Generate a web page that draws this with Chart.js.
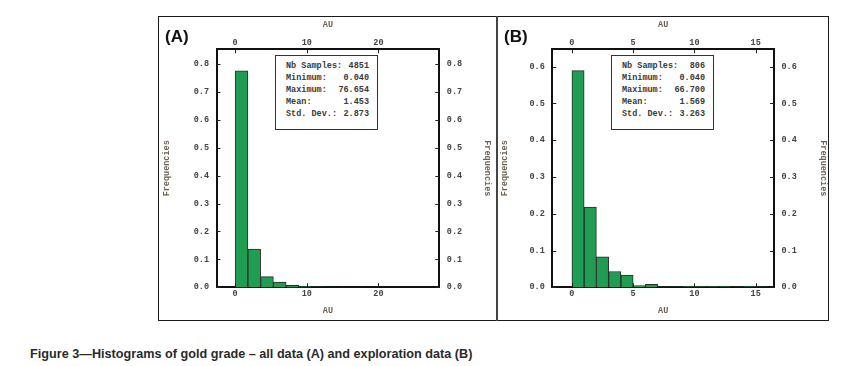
<!DOCTYPE html>
<html>
<head>
<meta charset="utf-8">
<script src="https://cdn.jsdelivr.net/npm/chart.js@4.4.0/dist/chart.umd.min.js"></script>
<style>
  body { margin: 0; background: #fff; width: 846px; height: 366px; position: relative; overflow: hidden; }
  .frame { position: absolute; left: 158px; top: 16px; width: 669px; height: 303px; border: 1.5px solid #1a1a1a; }
  .divider { position: absolute; left: 496px; top: 16px; width: 1.5px; height: 305px; background: #444; }
  canvas { position: absolute; }
  .tag { position: absolute; font: bold 17px "Liberation Sans", Arial, sans-serif; color: #111; }
  .stats { position: absolute; top: 55px; width: 101px; height: 69px; border: 1.5px solid #333; background: #fff;
           font: bold 8.5px "Liberation Mono", monospace; color: #3a3a3a; padding-top: 4px; box-sizing: content-box; }
  .stats div { display: flex; justify-content: space-between; line-height: 12px; padding: 0 8px 0 10px; }
  .caption { position: absolute; left: 30px; top: 347px; font: bold 12px "Liberation Sans", Arial, sans-serif;
             color: #2a2a2a; white-space: nowrap; transform-origin: 0 0; }
</style>
</head>
<body>
<div class="frame"></div>
<div class="divider"></div>
<canvas id="chartA" width="339" height="305" style="left:158px;top:16px"></canvas>
<canvas id="chartB" width="332" height="305" style="left:497px;top:16px"></canvas>
<div class="tag" style="left:165px;top:27px">(A)</div>
<div class="tag" style="left:504px;top:27px">(B)</div>
<div class="stats" id="statsA" style="left:275px"></div>
<div class="stats" id="statsB" style="left:611px"></div>
<div class="caption" id="caption">Figure 3—Histograms of gold grade – all data (A) and exploration data (B)</div>
<script>
// Histogramme A : toutes les données
const binCentersA = [0.89, 2.67, 4.45, 6.23, 8.01, 9.79, 11.57, 13.35, 15.13, 16.91];
const freqA = [0.776, 0.137, 0.038, 0.019, 0.007, 0.003, 0.002, 0.001, 0.001, 0.001];
const xTicksA = [0, 10, 20];
const yTicksA = [0, 0.1, 0.2, 0.3, 0.4, 0.5, 0.6, 0.7, 0.8];
const statsLabels = ['Nb Samples:', 'Minimum:', 'Maximum:', 'Mean:', 'Std. Dev.:'];
const statsA = ['4851', '0.040', '76.654', '1.453', '2.873'];

// Histogramme B : données d'exploration
const binCentersB = [0.5, 1.5, 2.5, 3.5, 4.5, 5.5, 6.5, 7.5, 8.5, 9.5, 10.5, 11.5, 12.5, 13.5, 14.5, 15.5];
const freqB = [0.589, 0.218, 0.083, 0.043, 0.033, 0.005, 0.008, 0.001, 0.001, 0.002, 0.002, 0.002, 0.002, 0.001, 0.002, 0.001];
const xTicksB = [0, 5, 10, 15];
const yTicksB = [0, 0.1, 0.2, 0.3, 0.4, 0.5, 0.6];
const statsB = ['806', '0.040', '66.700', '1.569', '3.263'];

const tickFont = { family: '"Liberation Mono", monospace', size: 8.5, weight: 'bold', lineHeight: 1 };
const tickColor = '#444';
const titleColor = '#6e6050';

// Petites graduations tournées vers l'intérieur du cadre
const inwardTicks = {
  id: 'inwardTicks',
  afterDatasetsDraw(chart) {
    const { ctx, chartArea: a } = chart;
    ctx.save();
    ctx.strokeStyle = '#222';
    ctx.lineWidth = 1;
    for (const id of ['x', 'x2', 'y', 'y2']) {
      const s = chart.scales[id];
      s.ticks.forEach(t => {
        const p = Math.round(s.getPixelForValue(t.value)) + 0.5;
        ctx.beginPath();
        if (id === 'x') { ctx.moveTo(p, a.bottom); ctx.lineTo(p, a.bottom - 4); }
        if (id === 'x2') { ctx.moveTo(p, a.top); ctx.lineTo(p, a.top + 4); }
        if (id === 'y') { ctx.moveTo(a.left, p); ctx.lineTo(a.left + 4, p); }
        if (id === 'y2') { ctx.moveTo(a.right, p); ctx.lineTo(a.right - 4, p); }
        ctx.stroke();
      });
    }
    ctx.restore();
  }
};

const xAxis = (pos, ticks, min, max, size, titlePad) => ({
  type: 'linear', position: pos, min: min, max: max, offset: false,
  afterBuildTicks: s => { s.ticks = ticks.map(v => ({ value: v })); },
  afterFit: s => { s.height = size; },
  ticks: { font: tickFont, color: tickColor, padding: pos === 'top' ? 2 : 2.5, maxRotation: 0 },
  grid: { display: false, drawTicks: false },
  border: { color: '#111', width: 2 },
  title: { display: true, text: 'AU', font: tickFont, color: titleColor, padding: titlePad }
});

const yAxis = (pos, ticks, max, size, pad) => ({
  type: 'linear', position: pos, min: 0, max: max,
  afterBuildTicks: s => { s.ticks = ticks.map(v => ({ value: v })); },
  afterFit: s => { s.width = size; },
  ticks: { font: tickFont, color: tickColor, padding: 7.5, callback: v => v.toFixed(1) },
  grid: { display: false, drawTicks: false },
  border: { color: '#111', width: 2 },
  title: { display: true, text: 'Frequencies', font: tickFont, color: titleColor, padding: { top: pad, bottom: 0 } }
});

const makeChart = (id, centers, freq, xr, xt, ymax, yt, sizes, pads) => new Chart(document.getElementById(id), {
  type: 'bar',
  data: {
    datasets: [{
      data: centers.map((c, i) => ({ x: c, y: freq[i] })),
      backgroundColor: '#1f9d52',
      borderColor: '#2b2b2b',
      borderWidth: 1,
      barPercentage: 1,
      categoryPercentage: 1
    }]
  },
  options: {
    responsive: false,
    animation: false,
    devicePixelRatio: 1,
    layout: { padding: 0 },
    plugins: { legend: { display: false }, tooltip: { enabled: false } },
    scales: {
      x: xAxis('bottom', xt, xr[0], xr[1], sizes[3], { top: 0, bottom: 5.75 }),
      x2: xAxis('top', xt, xr[0], xr[1], sizes[2], { top: 4.75, bottom: 0 }),
      y: yAxis('left', yt, ymax, sizes[0], pads[0]),
      y2: yAxis('right', yt, ymax, sizes[1], pads[1])
    }
  },
  plugins: [inwardTicks]
});

makeChart('chartA', binCentersA, freqA, [-2.6, 28.5], xTicksA, 0.853, yTicksA, [58.5, 57.7, 33.3, 33.7], [4.75, 5.75]);
makeChart('chartB', binCentersB, freqB, [-1.6, 16.5], xTicksB, 0.647, yTicksB, [55.3, 55, 33.3, 33.7], [3.75, 1.75]);

// Encadrés de statistiques
const fillStats = (id, vals) => {
  document.getElementById(id).innerHTML = statsLabels
    .map((l, i) => '<div><span>' + l + '</span><span>' + vals[i] + '</span></div>').join('');
};
fillStats('statsA', statsA);
fillStats('statsB', statsB);

// Légende de la figure ajustée à la largeur d'origine
const cap = document.getElementById('caption');
cap.style.transform = 'scaleX(' + (442 / cap.offsetWidth) + ')';
</script>
</body>
</html>
